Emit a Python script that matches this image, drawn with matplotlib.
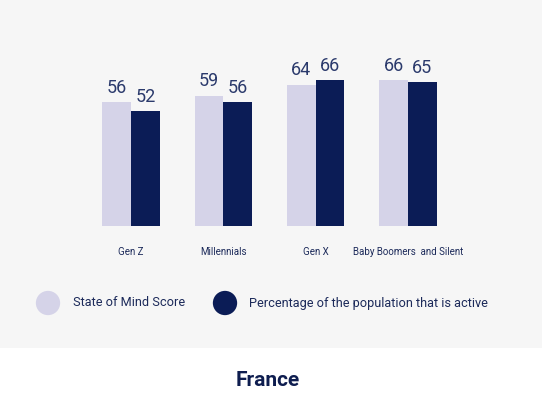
import numpy as np
import matplotlib
matplotlib.use("Agg")
import matplotlib.pyplot as plt
from matplotlib.patches import Rectangle

# data
categories = ["Gen Z", "Millennials", "Gen X", "Baby Boomers  and Silent"]
state_of_mind = [56, 59, 64, 66]
active_pct = [52, 56, 66, 65]
series_names = ["State of Mind Score", "Percentage of the population that is active"]

light = "#d5d3e8"
dark = "#0b1c56"
label_col = "#2b3a6c"

plt.rcParams['font.family'] = ['Roboto', 'DejaVu Sans']

W, H = 542, 394
fig = plt.figure(figsize=(W / 100, H / 100), dpi=100)
fig.patch.set_facecolor("white")
fig.patches.append(Rectangle((0, 1 - 348 / H), 1, 348 / H, transform=fig.transFigure,
                             facecolor="#f6f6f6", edgecolor="none", zorder=-1))

# bars axes, pixel layout
step = 92.3
left_px = 131 - 0.5 * step
ax = fig.add_axes([left_px / W, 1 - 226 / H, 4 * step / W, 80 * 2.21 / H])
ax.set_facecolor("none")
x = np.arange(len(categories))
bw = 0.31
b1 = ax.bar(x - bw / 2, state_of_mind, bw, color=light)
b2 = ax.bar(x + bw / 2, active_pct, bw, color=dark)
for bars, vals in ((b1, state_of_mind), (b2, active_pct)):
    for r, v in zip(bars, vals):
        ax.annotate(str(v), (r.get_x() + r.get_width() / 2, v), xytext=(0, 4),
                    textcoords="offset points", ha="center", va="bottom",
                    fontsize=13, color=label_col)
ax.set_xlim(-0.5, 3.5)
ax.set_ylim(0, 80)
ax.set_xticks(x)
ax.set_xticklabels(categories, fontsize=7, color="#1c2a5a")
ax.tick_params(axis="x", length=0, pad=15)
ax.set_yticks([])
for s in ax.spines.values():
    s.set_visible(False)

# legend and title
lay = fig.add_axes([0, 0, 1, 1])
lay.axis("off")
lay.set_xlim(0, 1)
lay.set_ylim(0, 1)
ly = 1 - 303 / H
lay.scatter([48 / W], [ly], s=17.5 ** 2, color=light, edgecolors="none")
lay.scatter([225 / W], [ly], s=17.5 ** 2, color=dark, edgecolors="none")
lay.text(73 / W, ly, series_names[0], fontsize=9.2, color="#1c2a5a", va="center", ha="left")
lay.text(249 / W, ly, series_names[1], fontsize=9.2, color="#1c2a5a", va="center", ha="left")
lay.text(268 / W, 1 - 381 / H, "France", fontsize=15, fontweight="bold", color="#0e1d4f",
         va="center", ha="center", family=['Roboto', 'DejaVu Sans'])

fig.savefig("out.png", dpi=100)
